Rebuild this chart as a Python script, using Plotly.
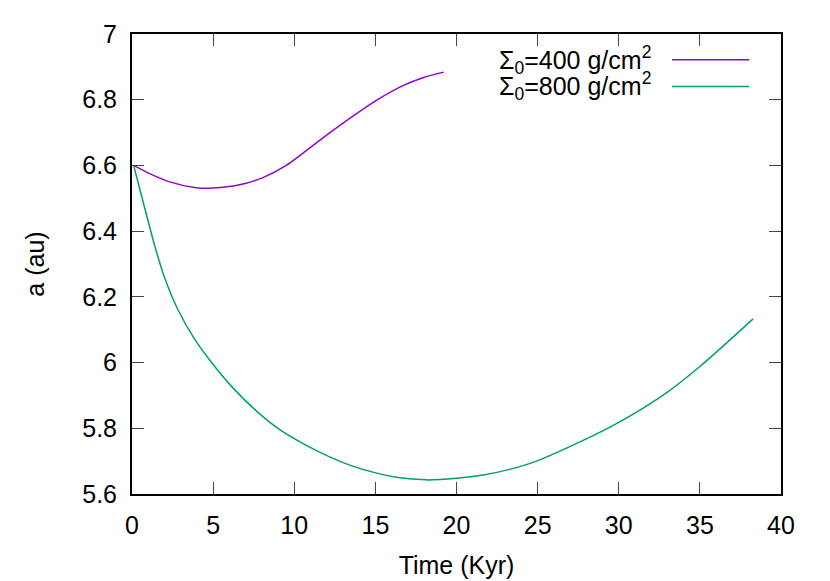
import plotly.graph_objs as go

# Sigma_0 = 400 g/cm^2
t_400 = [0.1, 1.09, 2.32, 3.96, 4.99, 6.63, 8.07, 9.51, 11.77, 13.42, 15.06, 16.7, 17.93, 19.21]
a_400 = [6.600, 6.575, 6.550, 6.532, 6.531, 6.541, 6.563, 6.600, 6.684, 6.743, 6.798, 6.843,
         6.867, 6.884]

# Sigma_0 = 800 g/cm^2
t_800 = [0.1, 0.76, 1.37, 1.99, 2.81, 3.84, 4.99, 6.22, 7.66, 9.1, 10.75, 12.18, 13.42, 14.96,
         16.29, 18.14, 20, 21.64, 23.28, 24.93, 27.8, 30, 32.94, 35, 38.28]
a_800 = [6.600, 6.475, 6.361, 6.261, 6.163, 6.073, 5.995, 5.923, 5.853, 5.796, 5.748, 5.713, 5.688,
         5.665, 5.651, 5.643, 5.648, 5.658, 5.675, 5.700, 5.763, 5.818, 5.908, 5.988, 6.133]

names = ['Σ<sub>0</sub>=400 g/cm<sup>2</sup>', 'Σ<sub>0</sub>=800 g/cm<sup>2</sup>']
colors = ['#9400d3', '#009e73']

trace1 = go.Scatter(x=t_400, y=a_400, mode='lines', name=names[0],
                    line=dict(color=colors[0], width=1.5, shape='spline', smoothing=0.8))
trace2 = go.Scatter(x=t_800, y=a_800, mode='lines', name=names[1],
                    line=dict(color=colors[1], width=1.5, shape='spline', smoothing=0.8))

fig = go.Figure(data=[trace1, trace2])

font = dict(family='Liberation Sans, Arial, sans-serif', size=25, color='black')

axis = dict(showline=True, linecolor='black', linewidth=2, mirror='allticks',
            ticks='inside', ticklen=12, tickwidth=1, tickcolor='#444',
            showgrid=False, zeroline=False, tickfont=font, ticklabelstandoff=8)

# page body has an 8px margin, so the margins are shifted by 8
fig.update_layout(
    width=830, height=581,
    margin=dict(l=124, r=57, t=18, b=95),
    plot_bgcolor='#FFFFFF', paper_bgcolor='#FFFFFF',
    showlegend=False,
    font=font,
)
fig.update_xaxes(range=[0, 40], dtick=5, title=dict(text='Time (Kyr)', font=font, standoff=18), **axis)
fig.update_yaxes(range=[5.6, 7], dtick=0.2, tickformat='~g',
                 title=dict(text='a (au)', font=font, standoff=30), **axis)

# gnuplot-style key: text on the left, line sample on the right
for i, (n, c) in enumerate(zip(names, colors)):
    y = 0.944 - i * 0.058
    fig.add_annotation(x=0.803, y=y, xref='paper', yref='paper', text=n,
                       showarrow=False, xanchor='right', yanchor='middle', font=font)
    fig.add_shape(type='line', xref='paper', yref='paper', x0=0.832, x1=0.951, y0=y, y1=y,
                  line=dict(color=c, width=1.5))

fig.write_html('out.html')
